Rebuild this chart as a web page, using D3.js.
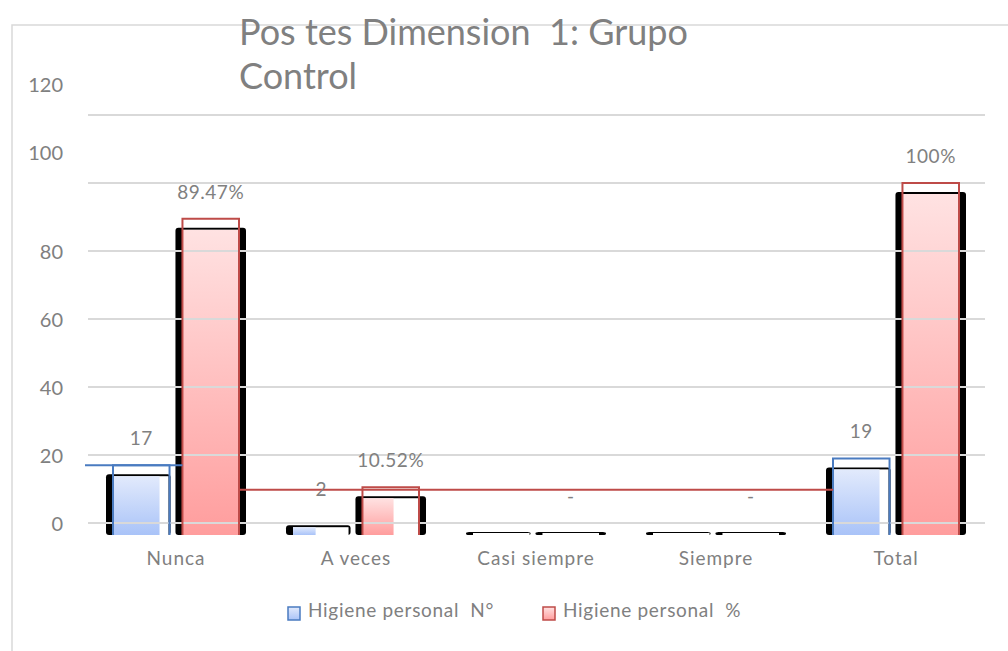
<!DOCTYPE html>
<html><head><meta charset="utf-8">
<script src="https://cdn.jsdelivr.net/npm/d3@7"></script>
<style>
html,body{margin:0;padding:0;background:#fff;}
svg text{font-family:Lato, "Open Sans", sans-serif;fill:#808080;white-space:pre;}
</style></head>
<body>
<svg id="chart" width="1008" height="651"></svg>
<script>
const categories = ["Nunca", "A veces", "Casi siempre", "Siempre", "Total"];
const seriesNames = ["Higiene personal  N°", "Higiene personal  %"];
const countValues = [17, 2, 0, 0, 19];
const percentValues = [89.47, 10.52, 0, 0, 100];
const countLabels = ["17", "2", "", "", "19"];
const percentLabels = ["89.47%", "10.52%", "-", "-", "100%"];
const yTicks = [0, 20, 40, 60, 80, 100, 120];
const titleLines = ["Pos tes Dimension  1: Grupo", "Control"];

const svg = d3.select("#chart");
const W = 1008, H = 651;
const plot = {left: 86, right: 986, top: 115, bottom: 523};

// border
svg.append("rect").attr("x", 12).attr("y", 25).attr("width", W + 10).attr("height", H)
  .attr("fill", "none").attr("stroke", "#d9d9d9").attr("stroke-width", 1.5);

const defs = svg.append("defs");
function grad(id, c1, c2) {
  const g = defs.append("linearGradient").attr("id", id).attr("x1", 0).attr("y1", 0).attr("x2", 0).attr("y2", 1);
  g.append("stop").attr("offset", "0%").attr("stop-color", c1);
  g.append("stop").attr("offset", "100%").attr("stop-color", c2);
}
grad("gBlue", "#e2eafc", "#a9c3f8");
grad("gRed", "#ffe2e2", "#ff9d9d");

const x0 = d3.scaleBand().domain(categories).range([plot.left, plot.right]).paddingInner(0.3).paddingOuter(0.15);
const x1 = d3.scaleBand().domain([0, 1]).range([0, x0.bandwidth()]).paddingInner(0.186);
const y = d3.scaleLinear().domain([0, 120]).range([plot.bottom, plot.top]);

const series = [
  {vals: countValues, labels: countLabels, grad: "url(#gBlue)", stroke: "#4a7bc0", idx: 0},
  {vals: percentValues, labels: percentLabels, grad: "url(#gRed)", stroke: "#be4b48", idx: 1}
];

const w = x1.bandwidth();
const barsG = svg.append("g");
series.forEach(s => {
  categories.forEach((c, i) => {
    const v = s.vals[i];
    const bx = x0(c) + x1(s.idx);
    const top = y(v) + 9;
    const bot = y(0) + 12;
    const leftExt = 7, rightExt = s.idx === 0 ? 1 : 7;
    barsG.append("rect").attr("x", bx - leftExt).attr("y", top).attr("width", w + leftExt + rightExt)
      .attr("height", bot - top).attr("rx", 3).attr("fill", "#000");
    if (v > 0) {
      const innerW = s.idx === 0 ? w - 1 : w;
      barsG.append("rect").attr("x", bx).attr("y", top + 2).attr("width", innerW)
        .attr("height", bot - top - 2).attr("fill", "#fff");
      const fw = s.idx === 0 ? (v < 5 ? w * 0.4 : w - 10) : (v < 50 ? w * 0.55 : w);
      barsG.append("rect").attr("x", bx).attr("y", top + 2).attr("width", fw)
        .attr("height", bot - top - 2).attr("fill", s.grad);
    } else {
      barsG.append("rect").attr("x", bx).attr("y", top + 1).attr("width", w)
        .attr("height", bot - top - 1).attr("fill", "#fff");
    }
  });
});

// gridlines (drawn over bars, as in the reference)
svg.append("g").selectAll("line").data(yTicks).join("line")
  .attr("x1", plot.left + 2).attr("x2", plot.right - 1)
  .attr("y1", d => y(d)).attr("y2", d => y(d))
  .attr("stroke", "#d9d9d9").attr("stroke-width", 2);

// y axis labels (top two sit higher in the reference)
const yAxis = d3.axisLeft(y).tickValues(yTicks).tickSize(0).tickPadding(0);
const ya = svg.append("g").attr("transform", `translate(${plot.left - 23},0)`).call(yAxis);
ya.select(".domain").remove();
ya.selectAll("text").style("font-size", "20px").attr("fill", "#808080")
  .style("font-family", "Lato, sans-serif")
  .attr("dy", d => d >= 100 ? "-1.2em" : "0.35em");

// outlines
series.forEach(s => {
  categories.forEach((c, i) => {
    const v = s.vals[i];
    if (v < 5) return;
    const bx = x0(c) + x1(s.idx);
    const bot = y(0) + 12;
    svg.append("path")
      .attr("d", `M${bx},${bot}V${y(v)}H${bx + w}V${bot}`)
      .attr("fill", "none").attr("stroke", s.stroke).attr("stroke-width", 2);
  });
});

// stray connector lines seen in the reference
svg.append("line").attr("x1", plot.left - 1).attr("x2", x0(categories[0]) + x1(1))
  .attr("y1", y(countValues[0])).attr("y2", y(countValues[0]))
  .attr("stroke", "#4a7bc0").attr("stroke-width", 2);
svg.append("line").attr("x1", x0(categories[0]) + x1(1) + w).attr("x2", x0(categories[4]) + x1(0))
  .attr("y1", y(percentValues[1]) + 2.5).attr("y2", y(percentValues[1]) + 2.5)
  .attr("stroke", "#be4b48").attr("stroke-width", 2);

// data labels
series.forEach(s => {
  categories.forEach((c, i) => {
    const lab = s.labels[i];
    if (!lab) return;
    const bx = x0(c) + x1(s.idx) + w / 2;
    svg.append("text").attr("x", bx).attr("y", y(s.vals[i]) - 20)
      .attr("text-anchor", "middle").style("font-size", "19px")
      .style("letter-spacing", "0.5px").text(lab);
  });
});

// category labels
const xa = svg.append("g").attr("transform", `translate(0,${y(0)})`)
  .call(d3.axisBottom(x0).tickSize(0).tickPadding(0));
xa.select(".domain").remove();
xa.selectAll("text").attr("dy", 0).attr("y", 42).style("font-size", "19px")
  .attr("fill", "#808080").style("font-family", "Lato, sans-serif").style("letter-spacing", "1px");

// title
const tt = svg.append("text").attr("x", 239).attr("y", 45).style("font-size", "36px");
titleLines.forEach((t, i) => tt.append("tspan").attr("x", 239).attr("dy", i === 0 ? 0 : 44).text(t));

// legend
const legendX = [288, 543];
series.forEach((s, i) => {
  svg.append("rect").attr("x", legendX[i]).attr("y", 607).attr("width", 12).attr("height", 13)
    .attr("fill", s.grad).attr("stroke", s.stroke).attr("stroke-width", 1.5);
  svg.append("text").attr("x", legendX[i] + 20).attr("y", 617).style("font-size", "19px")
    .style("letter-spacing", "0.7px").text(seriesNames[i]);
});
</script>
</body></html>
